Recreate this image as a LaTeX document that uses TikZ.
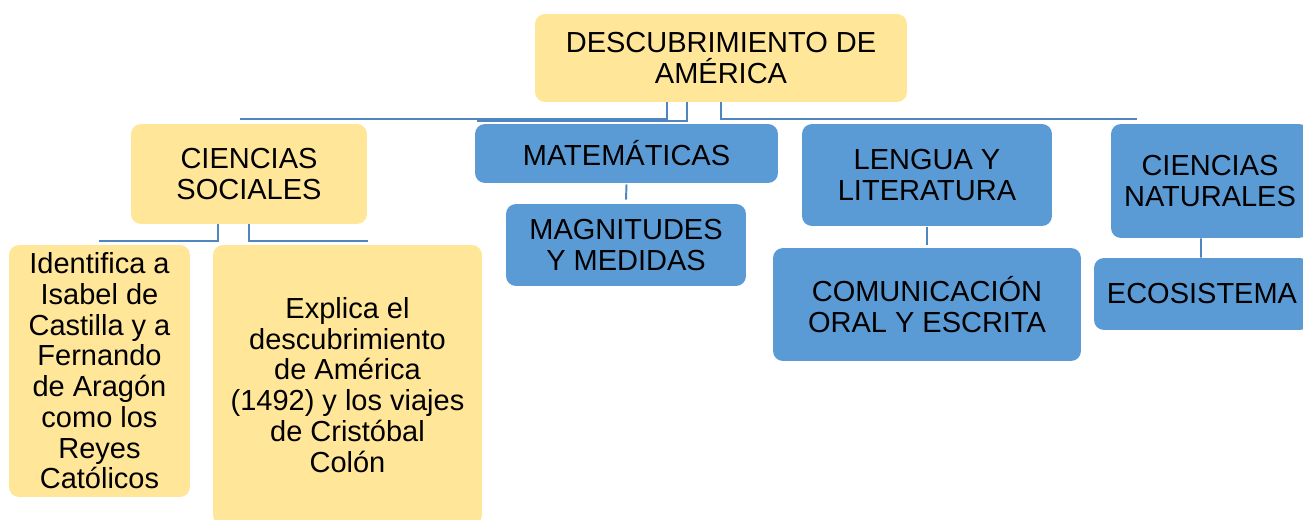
\documentclass[tikz,border=0pt]{standalone}
\usepackage{fontspec}
\setmainfont{Liberation Sans}
\definecolor{amarillo}{HTML}{FFE699}
\definecolor{azul}{HTML}{5B9BD5}
\definecolor{linea}{HTML}{4F86C0}
\begin{document}
\begin{tikzpicture}
        [x=0.02cm,y=-0.02cm,
        caja/.style={rounded corners=0.2cm,align=center,inner sep=0pt,
                font=\fontsize{16.5}{17.5}\selectfont},
        amar/.style={caja,fill=amarillo},
        azu/.style={caja,fill=azul},
        rama/.style={draw=linea,line width=1.1pt}]
        \useasboundingbox (0,0) rectangle (1303,520);
        % raiz y areas
        \node[amar,minimum width=7.44cm,minimum height=1.76cm] (raiz) at (721,58)
                {DESCUBRIMIENTO DE\\AMÉRICA};
        \node[amar,minimum width=4.72cm,minimum height=2cm] (sociales) at (249,174)
                {CIENCIAS\\SOCIALES};
        \node[azu,minimum width=6.06cm,minimum height=1.18cm] (mate) at (626.5,153.5)
                {MATEMÁTICAS};
        \node[azu,minimum width=5cm,minimum height=2.04cm] (lengua) at (927,175)
                {LENGUA Y\\LITERATURA};
        \node[azu,minimum width=3.96cm,minimum height=2.28cm] (naturales) at (1210,181)
                {CIENCIAS\\NATURALES};
        % contenidos
        \node[amar,minimum width=3.62cm,minimum height=5.04cm] (identifica) at (99.5,371)
                {Identifica a\\Isabel de\\Castilla y a\\Fernando\\de Aragón\\como los\\Reyes\\Católicos};
        \node[amar,minimum width=5.38cm,minimum height=5.6cm] (explica) at (347.5,385)
                {Explica el\\descubrimiento\\de América\\(1492) y los viajes\\de Cristóbal\\Colón};
        \node[azu,minimum width=4.8cm,minimum height=1.64cm] (magnitudes) at (626,245)
                {MAGNITUDES\\Y MEDIDAS};
        \node[azu,minimum width=6.16cm,minimum height=2.26cm] (comunica) at (927,304.5)
                {COMUNICACIÓN\\ORAL Y ESCRITA};
        \node[azu,minimum width=4.32cm,minimum height=1.44cm] (eco) at (1202,294)
                {ECOSISTEMA};
        % extremos libres
        \coordinate (finsoc) at (240,119);
        \coordinate (finmat) at (477,121);
        \coordinate (finnat) at (1137,119);
        \coordinate (finid) at (99,241);
        \coordinate (finex) at (368,241);
        % conectores
        \draw[rama] ([xshift=-1.08cm]raiz.south) |- (finsoc);
        \draw[rama] ([xshift=-0.68cm]raiz.south) |- (finmat);
        \draw[rama] (raiz.south) |- (finnat);
        \draw[rama] ([xshift=-0.62cm]sociales.south) |- (finid);
        \draw[rama] (sociales.south) |- (finex);
        \draw[rama] ([yshift=-0.02cm]mate.south) -- ([yshift=0.08cm]magnitudes.north);
        \draw[rama] ([yshift=-0.02cm]lengua.south) -- ([yshift=0.06cm]comunica.north);
        \draw[rama] ([xshift=-0.18cm]naturales.south) -- ([xshift=-0.02cm]eco.north);
\end{tikzpicture}
\end{document}
